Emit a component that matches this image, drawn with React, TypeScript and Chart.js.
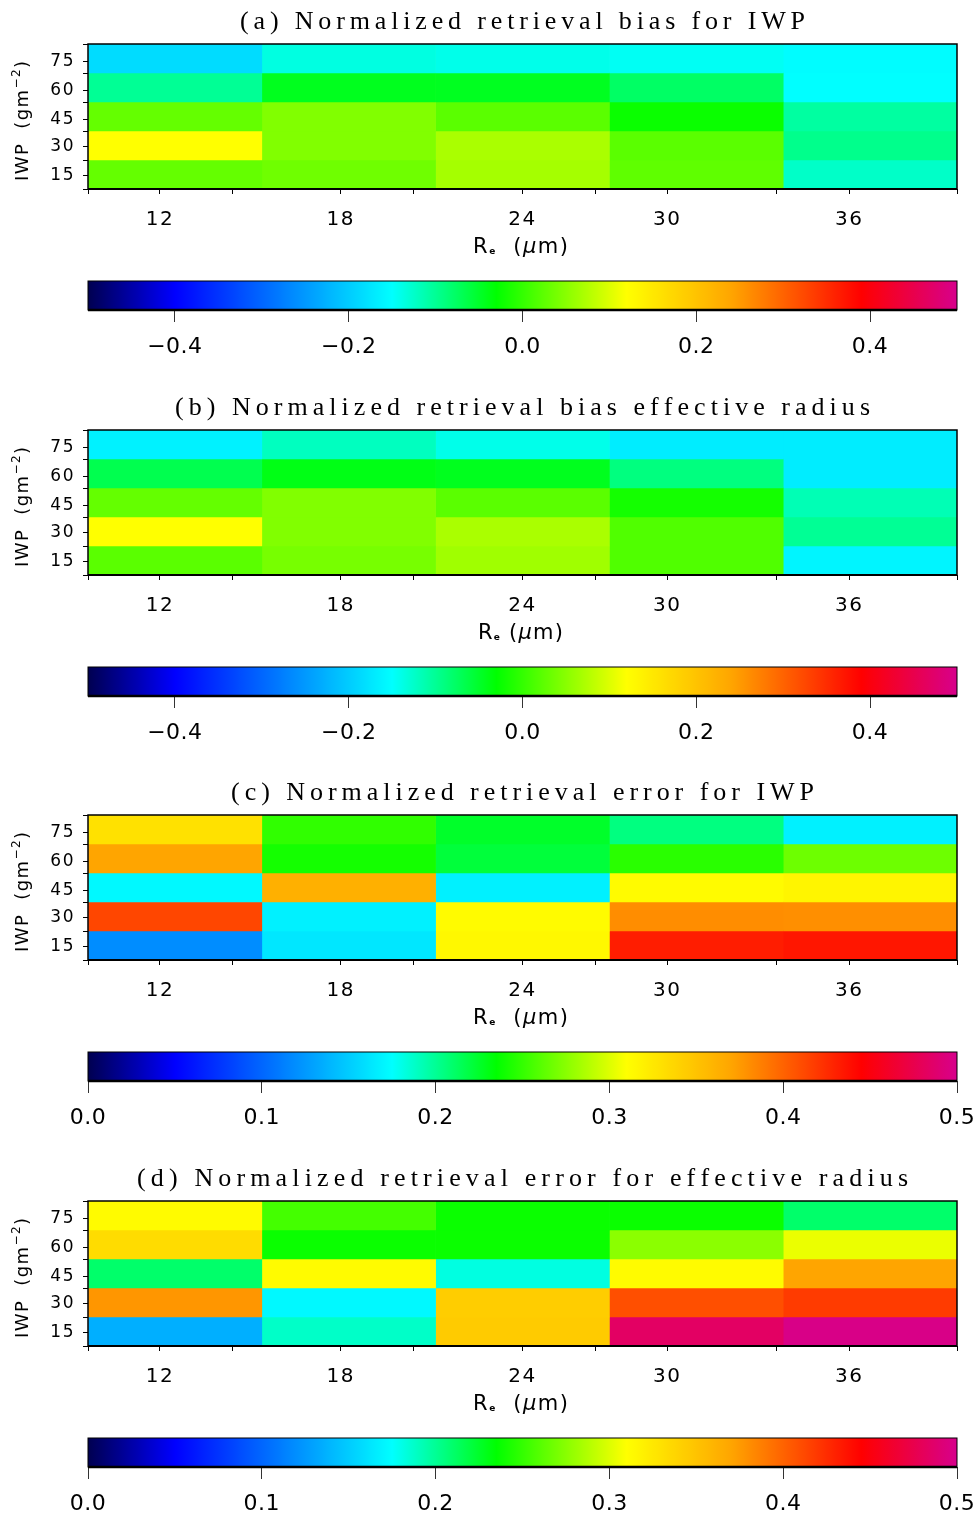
import React, { useEffect, useRef } from 'react';
import { Chart, registerables } from 'chart.js';

Chart.register(...registerables);

// ---------------- data ----------------
const iwpTickLabels = ['15', '30', '45', '60', '75'];
const reTickLabels = ['12', '18', '24', '30', '36'];

// rows: IWP 15 (first) ... 75 (last); columns: Re bins left -> right
const biasIWP = [
  [0.029, 0.035, 0.067, 0.026, -0.124],
  [0.12, 0.046, 0.07, 0.023, -0.096],
  [0.029, 0.046, 0.023, -0.024, -0.106],
  [-0.1, -0.044, -0.045, -0.077, -0.15],
  [-0.184, -0.136, -0.14, -0.145, -0.152],
];
const biasRe = [
  [0.023, 0.04, 0.064, 0.017, -0.16],
  [0.12, 0.046, 0.07, 0.017, -0.1],
  [0.029, 0.046, 0.023, -0.018, -0.115],
  [-0.067, -0.04, -0.044, -0.09, -0.168],
  [-0.163, -0.12, -0.14, -0.168, -0.168],
];
const errIWP = [
  [0.119, 0.163, 0.315, 0.432, 0.435],
  [0.413, 0.168, 0.313, 0.381, 0.38],
  [0.172, 0.363, 0.168, 0.313, 0.317],
  [0.37, 0.241, 0.221, 0.247, 0.267],
  [0.33, 0.249, 0.225, 0.205, 0.168],
];
const errRe = [
  [0.136, 0.188, 0.345, 0.484, 0.498],
  [0.377, 0.172, 0.343, 0.409, 0.418],
  [0.21, 0.313, 0.182, 0.313, 0.37],
  [0.333, 0.238, 0.238, 0.276, 0.304],
  [0.313, 0.255, 0.238, 0.238, 0.21],
];

const biasRange = [-0.5, 0.5];
const errRange = [0, 0.5];
const biasTicks = [-0.4, -0.2, 0, 0.2, 0.4];
const errTicks = [0, 0.1, 0.2, 0.3, 0.4, 0.5];

const titles = [
  '(a) Normalized retrieval bias for IWP',
  '(b) Normalized retrieval bias effective radius',
  '(c) Normalized retrieval error for IWP',
  '(d) Normalized retrieval error for effective radius',
];

// ---------------- styling ----------------
const cmapStops: [number, number[]][] = [
  [0, [0, 0, 80]],
  [0.1, [0, 0, 255]],
  [0.35, [0, 255, 255]],
  [0.47, [0, 255, 0]],
  [0.62, [255, 255, 0]],
  [0.74, [255, 165, 0]],
  [0.89, [255, 0, 0]],
  [1, [215, 0, 140]],
];

function cmap(t: number): string {
  const tt = Math.max(0, Math.min(1, t));
  for (let i = 1; i < cmapStops.length; i++) {
    const [t1, c1] = cmapStops[i];
    const [t0, c0] = cmapStops[i - 1];
    if (tt <= t1) {
      const f = (tt - t0) / (t1 - t0);
      const c = c0.map((v, k) => Math.round(v + (c1[k] - v) * f));
      return `rgb(${c[0]},${c[1]},${c[2]})`;
    }
  }
  const c = cmapStops[cmapStops.length - 1][1];
  return `rgb(${c[0]},${c[1]},${c[2]})`;
}

// tick placements (in cell units) as drawn in the original figure
const xTickPos = [0, 0.414, 0.833, 1.454, 1.874, 2.5, 2.92, 3.333, 3.96, 4.38, 5];
const xMajorPos = [0.414, 1.454, 2.5, 3.333, 4.38];
const yTickPos = [0, 0.48, 1, 1.45, 2, 2.41, 3, 3.41, 4, 4.38, 5];
const yMajorPos = [0.48, 1.45, 2.41, 3.41, 4.38];

const SANS = 'DejaVu Sans';
const X_TICK_FONT = { family: SANS, size: 20 };
const Y_TICK_FONT = { family: SANS, size: 17 };
const CB_FONT = { family: SANS, size: 22 };

type Seg = { text: string; font: string; dy?: number };

function drawRich(ctx: CanvasRenderingContext2D, segs: Seg[], cx: number, baseY: number, target: number) {
  const chars: { ch: string; font: string; dy: number; w: number }[] = [];
  for (const s of segs) {
    ctx.font = s.font;
    for (const ch of Array.from(s.text)) {
      chars.push({ ch, font: s.font, dy: s.dy || 0, w: ctx.measureText(ch).width });
    }
  }
  const natural = chars.reduce((a, c) => a + c.w, 0);
  const sp = chars.length > 1 ? (target - natural) / (chars.length - 1) : 0;
  let x = cx - target / 2;
  ctx.textAlign = 'left';
  ctx.textBaseline = 'alphabetic';
  for (const c of chars) {
    ctx.font = c.font;
    ctx.fillText(c.ch, x, baseY + c.dy);
    x += c.w + sp;
  }
}

function labelFor(v: number, majors: number[], labels: string[]) {
  const i = majors.findIndex((m) => Math.abs(m - v) < 1e-6);
  return i >= 0 ? labels[i] : '';
}

type PanelCfg = {
  title: string;
  titleWidth: number;
  values: number[][];
  range: number[];
  cbTicks: number[];
  xTitleSpace: string;
  xTitleWidth: number;
};

const panels: PanelCfg[] = [
  { title: titles[0], titleWidth: 565, values: biasIWP, range: biasRange, cbTicks: biasTicks, xTitleSpace: '  ', xTitleWidth: 95 },
  { title: titles[1], titleWidth: 695, values: biasRe, range: biasRange, cbTicks: biasTicks, xTitleSpace: ' ', xTitleWidth: 85 },
  { title: titles[2], titleWidth: 583, values: errIWP, range: errRange, cbTicks: errTicks, xTitleSpace: '  ', xTitleWidth: 95 },
  { title: titles[3], titleWidth: 771, values: errRe, range: errRange, cbTicks: errTicks, xTitleSpace: '  ', xTitleWidth: 95 },
];

const HEAT_H = 262;
const BAR_H = 86;

function Panel({ p, top }: { p: PanelCfg; top: number }) {
  const heatRef = useRef<HTMLCanvasElement>(null);
  const barRef = useRef<HTMLCanvasElement>(null);

  useEffect(() => {
    const charts: Chart[] = [];
    const [lo, hi] = p.range;
    const colorFor = (v: number) => cmap((v - lo) / (hi - lo));

    const datasets = reTickLabels.map((_, c) => ({
      data: p.values.map(() => [c, c + 1]),
      backgroundColor: p.values.map((row) => colorFor(row[c])),
      xAxisID: 'x',
      yAxisID: 'yCat',
      grouped: false,
      barPercentage: 1,
      categoryPercentage: 1,
      borderWidth: 0,
    }));

    const heatDeco = {
      id: 'heatDeco',
      beforeDraw(chart: any) {
        chart.ctx.letterSpacing = '1.5px';
      },
      afterDraw(chart: any) {
        const ctx: CanvasRenderingContext2D = chart.ctx;
        const a = chart.chartArea;
        ctx.save();
        ctx.letterSpacing = '0px';
        ctx.strokeStyle = '#000';
        ctx.lineWidth = 1.5;
        ctx.strokeRect(a.left, a.top, a.right - a.left, a.bottom - a.top);
        ctx.lineWidth = 2;
        ctx.beginPath();
        ctx.moveTo(a.left, a.bottom);
        ctx.lineTo(a.right, a.bottom);
        ctx.stroke();
        ctx.fillStyle = '#000';
        const cx = (a.left + a.right) / 2;
        // title
        drawRich(ctx, [{ text: p.title, font: '26px "Liberation Serif"' }], cx, 29, p.titleWidth);
        // x axis title
        drawRich(
          ctx,
          [
            { text: 'R', font: `21px "${SANS}"` },
            { text: 'e', font: `bold 9px "${SANS}"`, dy: 1 },
            { text: p.xTitleSpace + '(', font: `21px "${SANS}"` },
            { text: 'μ', font: `italic 21px "${SANS}"` },
            { text: 'm)', font: `21px "${SANS}"` },
          ],
          cx - 2,
          253,
          p.xTitleWidth
        );
        // y axis title
        ctx.translate(28, 121);
        ctx.rotate(-Math.PI / 2);
        drawRich(
          ctx,
          [
            { text: 'IWP  (gm', font: `18px "${SANS}"` },
            { text: '−2', font: `12px "${SANS}"`, dy: -8 },
            { text: ')', font: `18px "${SANS}"` },
          ],
          0,
          0,
          120
        );
        ctx.restore();
      },
    };

    if (heatRef.current) {
      charts.push(
        new Chart(heatRef.current, {
          type: 'bar',
          data: { labels: iwpTickLabels, datasets: datasets as any },
          options: {
            responsive: false,
            animation: false,
            devicePixelRatio: 1,
            indexAxis: 'y',
            layout: { padding: { left: 0, right: 20, top: 44, bottom: 0 } },
            plugins: { legend: { display: false }, title: { display: false }, tooltip: { enabled: false } },
            scales: {
              x: {
                type: 'linear',
                position: 'bottom',
                min: 0,
                max: 5,
                offset: false,
                afterBuildTicks: (s: any) => {
                  s.ticks = xTickPos.map((v) => ({ value: v }));
                },
                afterFit: (s: any) => {
                  s.height = HEAT_H - 189;
                  s.paddingLeft = 0;
                  s.paddingRight = 0;
                },
                ticks: {
                  autoSkip: false,
                  maxRotation: 0,
                  minRotation: 0,
                  padding: 14,
                  color: '#000',
                  font: X_TICK_FONT,
                  callback: (v: any) => labelFor(Number(v), xMajorPos, reTickLabels),
                },
                grid: { offset: false, drawOnChartArea: false, drawTicks: true, tickLength: 5, color: '#000', lineWidth: 1 },
                border: { display: false },
              },
              yCat: {
                type: 'category',
                labels: iwpTickLabels,
                reverse: true,
                display: false,
                offset: true,
              },
              y: {
                type: 'linear',
                position: 'left',
                min: 0,
                max: 5,
                offset: false,
                afterBuildTicks: (s: any) => {
                  s.ticks = yTickPos.map((v) => ({ value: v }));
                },
                afterFit: (s: any) => {
                  s.width = 88;
                  s.paddingTop = 0;
                  s.paddingBottom = 0;
                },
                ticks: {
                  autoSkip: false,
                  padding: 8,
                  color: '#000',
                  font: Y_TICK_FONT,
                  callback: (v: any) => labelFor(Number(v), yMajorPos, iwpTickLabels),
                },
                grid: { offset: false, drawOnChartArea: false, drawTicks: true, tickLength: 5, color: '#000', lineWidth: 1 },
                border: { display: false },
              },
            },
          } as any,
          plugins: [heatDeco as any],
        })
      );
    }

    const barDeco = {
      id: 'barDeco',
      beforeDraw(chart: any) {
        chart.ctx.letterSpacing = '0.5px';
      },
      beforeDatasetsDraw(chart: any) {
        const ctx: CanvasRenderingContext2D = chart.ctx;
        const a = chart.chartArea;
        const xs = chart.scales.x;
        const x0 = xs.getPixelForValue(lo);
        const x1 = xs.getPixelForValue(hi);
        const g = ctx.createLinearGradient(x0, 0, x1, 0);
        for (let i = 0; i <= 200; i++) g.addColorStop(i / 200, cmap(i / 200));
        ctx.save();
        ctx.fillStyle = g;
        ctx.fillRect(x0, a.top, x1 - x0, a.bottom - a.top);
        ctx.restore();
      },
      afterDraw(chart: any) {
        const ctx: CanvasRenderingContext2D = chart.ctx;
        const a = chart.chartArea;
        ctx.save();
        ctx.strokeStyle = '#000';
        ctx.lineWidth = 1;
        ctx.strokeRect(a.left, a.top, a.right - a.left, a.bottom - a.top);
        ctx.lineWidth = 2.5;
        ctx.beginPath();
        ctx.moveTo(a.left, a.bottom);
        ctx.lineTo(a.right, a.bottom);
        ctx.stroke();
        ctx.restore();
      },
    };

    if (barRef.current) {
      charts.push(
        new Chart(barRef.current, {
          type: 'scatter',
          data: { datasets: [] },
          options: {
            responsive: false,
            animation: false,
            devicePixelRatio: 1,
            layout: { padding: { left: 88, right: 20, top: 10, bottom: 0 } },
            plugins: { legend: { display: false }, title: { display: false }, tooltip: { enabled: false } },
            scales: {
              x: {
                type: 'linear',
                position: 'bottom',
                min: lo,
                max: hi,
                offset: false,
                afterBuildTicks: (s: any) => {
                  s.ticks = p.cbTicks.map((v) => ({ value: v }));
                },
                afterFit: (s: any) => {
                  s.height = BAR_H - 39;
                  s.paddingLeft = 0;
                  s.paddingRight = 0;
                },
                ticks: {
                  autoSkip: false,
                  maxRotation: 0,
                  minRotation: 0,
                  padding: 12,
                  color: '#000',
                  font: CB_FONT,
                  callback: (v: any) => Number(v).toFixed(1).replace('-', '−'),
                },
                grid: { offset: false, drawOnChartArea: false, drawTicks: true, tickLength: 12, color: '#333', lineWidth: 1 },
                border: { display: false },
              },
              y: { type: 'linear', display: false, min: 0, max: 1 },
            },
          } as any,
          plugins: [barDeco as any],
        })
      );
    }

    return () => charts.forEach((c) => c.destroy());
  }, [p, top]);

  return (
    <>
      <canvas
        ref={heatRef}
        width={977}
        height={HEAT_H}
        style={{ position: 'absolute', left: 0, top, display: 'block' }}
      />
      <canvas
        ref={barRef}
        width={977}
        height={BAR_H}
        style={{ position: 'absolute', left: 0, top: top + 271, display: 'block' }}
      />
    </>
  );
}

export default function App() {
  return (
    <div
      style={{
        position: 'absolute',
        left: 0,
        top: 0,
        width: 977,
        height: 1515,
        overflow: 'hidden',
        background: '#fff',
      }}
    >
      {panels.map((p, i) => (
        <Panel key={i} p={p} top={Math.round(i * 385.67)} />
      ))}
    </div>
  );
}
